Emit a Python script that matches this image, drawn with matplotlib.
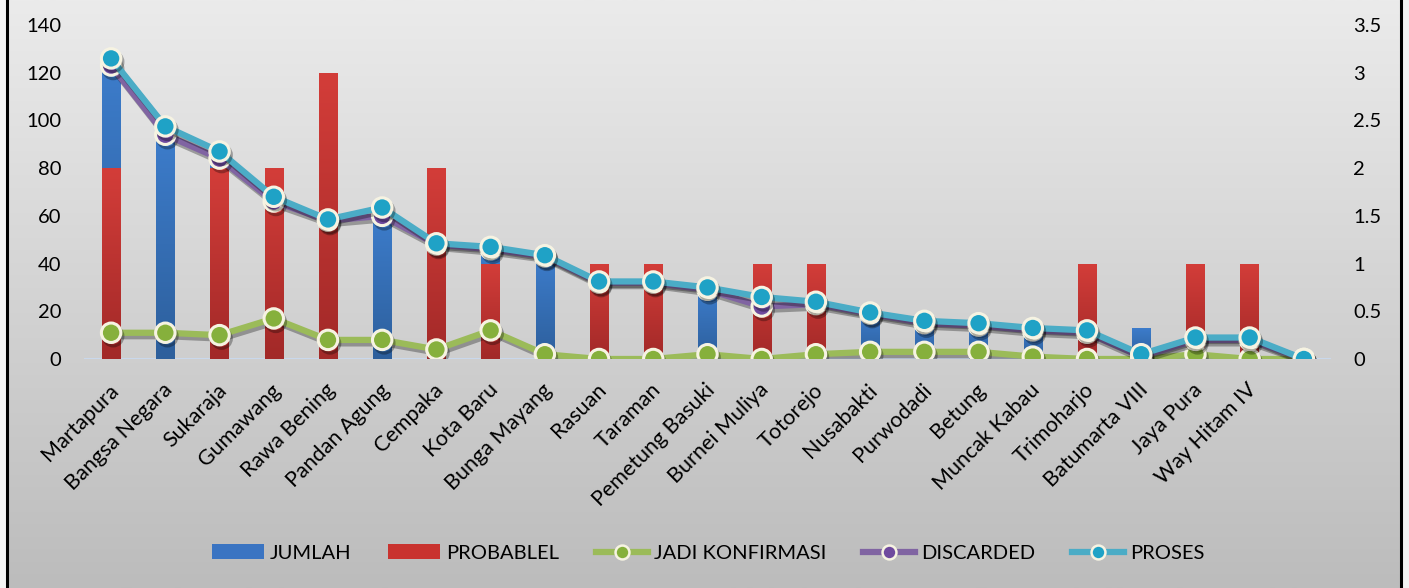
import numpy as np
import matplotlib
matplotlib.use("Agg")
import matplotlib.pyplot as plt
from matplotlib import patheffects as pe
from matplotlib.colors import LinearSegmentedColormap
from matplotlib.patches import Patch
from matplotlib.lines import Line2D
from matplotlib.transforms import ScaledTranslation
from matplotlib.ticker import FuncFormatter

categories = ["Martapura", "Bangsa Negara", "Sukaraja", "Gumawang", "Rawa Bening",
              "Pandan Agung", "Cempaka", "Kota Baru", "Bunga Mayang", "Rasuan",
              "Taraman", "Pemetung Basuki", "Burnei Muliya", "Totorejo", "Nusabakti",
              "Purwodadi", "Betung", "Muncak Kabau", "Trimoharjo", "Batumarta VIII",
              "Jaya Pura", "Way Hitam IV", ""]
jumlah = [128, 96, 86, 68, 59, 62, 49, 47, 44, 33, 33, 30, 26, 24, 20, 16, 15, 13, 12, 13, 9, 9, 0]
probablel = [2, 0, 2, 2, 3, 0, 2, 1, 0, 1, 1, 0, 1, 1, 0, 0, 0, 0, 1, 0, 1, 1, 0]
jadi_konfirmasi = [11, 11, 10, 17, 8, 8, 4, 12, 2, 0, 0, 2, 0, 2, 3, 3, 3, 1, 0, 0, 2, 0, 0]
discarded = [123, 94, 84, 66, 58, 60, 48, 46, 43, 32, 32, 29, 22, 23, 19, 15, 14, 12, 11, 1, 8, 8, 0]
proses = [126, 97.5, 87, 68, 58.5, 63.5, 48.5, 47, 43.5, 32.5, 32.5, 30, 26, 24, 19.5, 16, 15, 13, 12, 2, 9, 9, 0]

left_ticks = list(range(0, 141, 20))
right_ticks = [0, 0.5, 1, 1.5, 2, 2.5, 3, 3.5]

plt.rcParams['font.family'] = ['Lato', 'DejaVu Sans']
FS = 14.5
W, H = 1409, 588

fig = plt.figure(figsize=(W / 100, H / 100), dpi=100)
fig.patch.set_facecolor('#f4f4f4')

# background gradient panel with black side borders
bg = fig.add_axes([7 / W, 0, 1394 / W, 1], zorder=-10)
grad = np.linspace(0, 1, 256).reshape(-1, 1)
bg.imshow(grad, aspect='auto', origin='upper', extent=[0, 1, 0, 1],
          cmap=LinearSegmentedColormap.from_list('bg', ['#ebebeb', '#bcbcbc']))
bg.set_xticks([]); bg.set_yticks([])
for s in ['top', 'bottom']:
    bg.spines[s].set_visible(False)
for s in ['left', 'right']:
    bg.spines[s].set_linewidth(2.2)
    bg.spines[s].set_color('black')

rect = [84 / W, 1 - 359 / H, (1331 - 84) / W, (359 - 25) / H]
ax = fig.add_axes(rect)
ax.patch.set_alpha(0)
x = np.arange(len(categories))
bw = 0.34


def gradient_bars(axis, bars, c_top, c_bot):
    cmap = LinearSegmentedColormap.from_list('g', [c_bot, c_top])
    for b in bars:
        h = b.get_height()
        if h <= 0:
            continue
        x0 = b.get_x(); w = b.get_width()
        im = axis.imshow(np.linspace(0, 1, 100).reshape(-1, 1), cmap=cmap, aspect='auto',
                         extent=[x0, x0 + w, 0, h], origin='lower', zorder=b.get_zorder())
        im.set_clip_path(b)


ax.axhline(0, color='#c9daf0', lw=1.3, zorder=1)
blue = ax.bar(x, jumlah, width=bw, color='#3a74c2', zorder=2)
gradient_bars(ax, blue, '#3d7dcc', '#2d5f9c')
ax.set_xlim(-0.5, len(categories) - 0.5)
ax.set_ylim(0, 140)
ax.set_yticks(left_ticks)
ax.tick_params(axis='y', length=0, pad=16.5, labelsize=FS)
ax.set_xticks(x)
ax.set_xticklabels(categories, rotation=45, ha='right', va='top', rotation_mode='anchor', fontsize=15.5)
ax.tick_params(axis='x', length=0, pad=15)
off = ScaledTranslation(-3 / 100, 0, fig.dpi_scale_trans)
for lab in ax.get_xticklabels():
    lab.set_transform(lab.get_transform() + off)
for s in ax.spines.values():
    s.set_visible(False)

ax2 = ax.twinx()
ax2.patch.set_alpha(0)
red = ax2.bar(x, probablel, width=bw, color='#c9332f', zorder=2)
gradient_bars(ax2, red, '#d33d39', '#a22928')
ax2.set_xlim(-0.5, len(categories) - 0.5)
ax2.set_ylim(0, 3.5)
ax2.set_yticks(right_ticks)
ax2.yaxis.set_major_formatter(FuncFormatter(lambda v, p: f'{v:g}'))
ax2.tick_params(axis='y', length=0, pad=16, labelsize=FS)
for s in ax2.spines.values():
    s.set_visible(False)

ax3 = ax.twinx()
ax3.set_ylim(0, 140)
ax3.set_xlim(-0.5, len(categories) - 0.5)
ax3.axis('off')

shadow = [pe.SimpleLineShadow(offset=(1.5, -2.5), alpha=0.3, shadow_color='black'), pe.Normal()]
line_kw = dict(lw=4.5, marker='o', ms=14, mec='#f6f3e2', mew=2.2, solid_capstyle='round')
l1, = ax3.plot(x, jadi_konfirmasi, color='#9bbb59', mfc='#86b03c', path_effects=shadow, **line_kw)
l2, = ax3.plot(x, discarded, color='#8064a2', mfc='#6f4a9e', path_effects=shadow, **line_kw)
l3, = ax3.plot(x, proses, color='#4bacc6', mfc='#1fa2c6', path_effects=shadow, **line_kw)

handles = [Patch(facecolor='#3a74c2'), Patch(facecolor='#c9332f'),
           Line2D([], [], color='#9bbb59', lw=4.5, marker='o', ms=10, mfc='#86b03c', mec='#f6f3e2', mew=1.8),
           Line2D([], [], color='#8064a2', lw=4.5, marker='o', ms=10, mfc='#6f4a9e', mec='#f6f3e2', mew=1.8),
           Line2D([], [], color='#4bacc6', lw=4.5, marker='o', ms=10, mfc='#1fa2c6', mec='#f6f3e2', mew=1.8)]
labels = ["JUMLAH", "PROBABLEL", "JADI KONFIRMASI", "DISCARDED", "PROSES"]
fig.legend(handles, labels, loc='center', bbox_to_anchor=(0.5025, 1 - 553 / H), ncol=5,
           frameon=False, fontsize=FS, handlelength=2.6, handleheight=0.7,
           columnspacing=1.8, handletextpad=0.3, numpoints=1)

fig.savefig('out.png', dpi=100, facecolor=fig.get_facecolor())
